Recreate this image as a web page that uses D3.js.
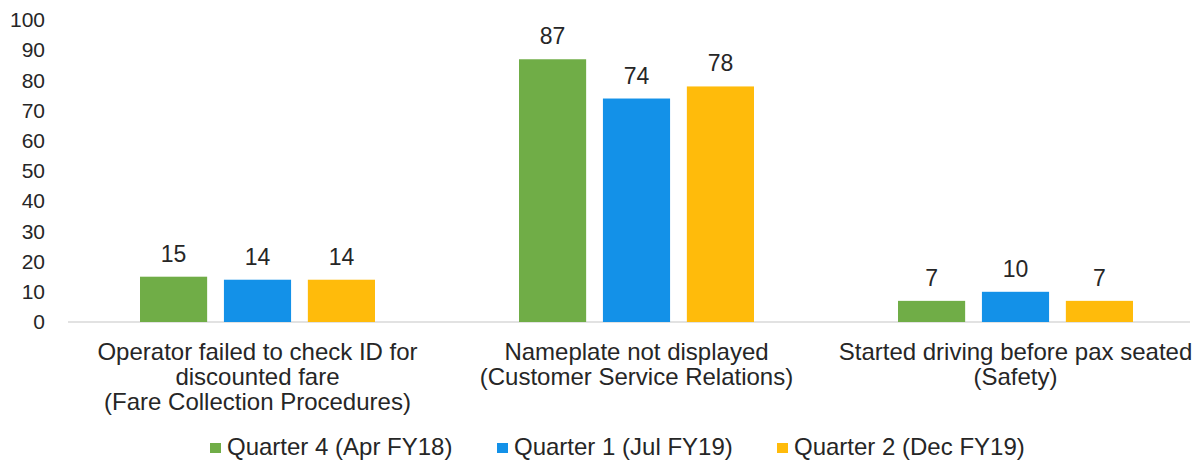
<!DOCTYPE html>
<html lang="en">
<head>
  <meta charset="UTF-8">
  <title>Violations by quarter</title>
  <style>
    body { margin: 0; background: #fff; }
    text { font-family: "Liberation Sans", Arial, sans-serif; fill: #262626; }
  </style>
</head>
<body>
  <div id="chart"></div>
  <script src="https://d3js.org/d3.v7.min.js"></script>
  <script>
    var categories = [
      ['Operator failed to check ID for', 'discounted fare', '(Fare Collection Procedures)'],
      ['Nameplate not displayed', '(Customer Service Relations)'],
      ['Started driving before pax seated', '(Safety)']
    ];
    var seriesNames = ['Quarter 4 (Apr FY18)', 'Quarter 1 (Jul FY19)', 'Quarter 2 (Dec FY19)'];
    var q4Values = [15, 87, 7];
    var q1Values = [14, 74, 10];
    var q2Values = [14, 78, 7];
    var yTicks = [0, 10, 20, 30, 40, 50, 60, 70, 80, 90, 100];
    var colors = ['#70ad47', '#1391e8', '#ffbb0b'];

    var width = 1197, height = 463;
    var series = [q4Values, q1Values, q2Values];

    var svg = d3.select('#chart').append('svg')
      .attr('width', width)
      .attr('height', height);

    var x0 = d3.scaleBand().domain(d3.range(categories.length)).range([68, 1205]);
    var x1 = d3.scaleBand().domain(d3.range(series.length))
      .range([72, x0.bandwidth() - 72]).paddingInner(0.2);
    var y = d3.scaleLinear().domain([0, 100]).range([322, 20]);

    // y axis labels only, no line
    var yAxis = svg.append('g')
      .attr('transform', 'translate(49,0)')
      .call(d3.axisLeft(y).tickValues(yTicks).tickSize(0).tickPadding(4));
    yAxis.select('.domain').remove();
    yAxis.selectAll('text')
      .attr('font-size', 21)
      .style('font-family', '"Liberation Sans", Arial, sans-serif')
      .attr('fill', '#262626');

    // baseline
    svg.append('line')
      .attr('x1', 68).attr('x2', 1190)
      .attr('y1', y(0)).attr('y2', y(0))
      .attr('stroke', '#d9d9d9').attr('stroke-width', 1.5);

    var groups = svg.selectAll('.grp')
      .data(categories)
      .enter().append('g')
      .attr('class', 'grp')
      .attr('transform', function(d, i) { return 'translate(' + x0(i) + ',0)'; });

    groups.each(function(c, ci) {
      var g = d3.select(this);
      var vals = series.map(function(s) { return s[ci]; });
      g.selectAll('rect')
        .data(vals)
        .enter().append('rect')
        .attr('x', function(d, i) { return x1(i); })
        .attr('y', function(d) { return y(d); })
        .attr('width', x1.bandwidth())
        .attr('height', function(d) { return y(0) - y(d); })
        .attr('fill', function(d, i) { return colors[i]; });
      g.selectAll('text.val')
        .data(vals)
        .enter().append('text')
        .attr('class', 'val')
        .attr('x', function(d, i) { return x1(i) + x1.bandwidth() / 2; })
        .attr('y', function(d) { return y(d) - 15; })
        .attr('text-anchor', 'middle')
        .attr('font-size', 23)
        .text(function(d) { return d; });
      g.append('text')
        .attr('text-anchor', 'middle')
        .attr('font-size', 24)
        .selectAll('tspan')
        .data(c)
        .enter().append('tspan')
        .attr('x', x0.bandwidth() / 2)
        .attr('y', function(d, i) { return 360 + i * 25; })
        .text(function(d) { return d; });
    });

    // legend
    var legendX = [210, 497, 777];
    var legend = svg.selectAll('.leg')
      .data(seriesNames)
      .enter().append('g')
      .attr('class', 'leg')
      .attr('transform', function(d, i) { return 'translate(' + legendX[i] + ',448)'; });
    legend.append('rect')
      .attr('x', 0).attr('y', -5)
      .attr('width', 11).attr('height', 10)
      .attr('fill', function(d, i) { return colors[i]; });
    legend.append('text')
      .attr('x', 17).attr('y', 7)
      .attr('font-size', 24)
      .text(function(d) { return d; });
  </script>
</body>
</html>
